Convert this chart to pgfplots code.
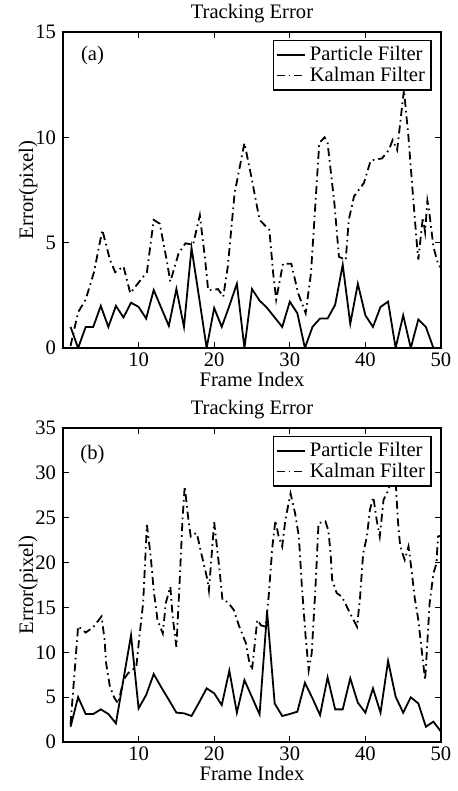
\documentclass[border=0pt]{standalone}
\usepackage{fontspec}
\setmainfont{Liberation Serif}
\usepackage{pgfplots}
\pgfplotsset{compat=1.18}

\newcommand{\fs}{\fontsize{10.3}{12}\selectfont}
\pgfplotsset{
  trk/.style={scale only axis, width=189pt, xmin=0, xmax=50,
    xtick={10,20,30,40,50}, tick align=inside, major tick length=3pt,
    axis line style={line width=0.75pt}, every tick/.style={line width=0.6pt},
    /pgf/number format/assume math mode=true,
    tick label style={font=\fs},
    xticklabel style={yshift=1pt},
    title={Tracking Error}, title style={font=\fs, yshift=-5pt},
    xlabel={Frame Index}, ylabel={Error(pixel)},
    label style={font=\fs},
    xlabel style={yshift=4pt}, ylabel style={yshift=-8pt},
    legend style={at={(0.975,0.975)}, anchor=north east, draw=black,
      line width=0.7pt, fill=white, font=\fs, inner sep=1pt,
      row sep=-2.5pt, cells={anchor=west}},
    legend image code/.code={\draw[#1] (0cm,0cm) -- (0.5cm,0cm);}},
  pf/.style={black, line width=0.9pt},
  kf/.style={black, line width=0.9pt, dash pattern=on 4pt off 2pt on 0.8pt off 2pt}
}

\begin{document}
\begin{tikzpicture}
% (a) small tracking error
\begin{axis}[trk, height=158pt, ymin=0, ymax=15, ytick={0,5,10,15}]
\addplot[pf] coordinates {(1,1.0)(2,0)(3,1.0)(4,1.0)(5,2.0)(6,1.0)(7,2.0)(8,1.45)(9,2.15)(10,1.95)
 (11,1.4)(12,2.75)(13,1.9)(14,1.05)(15,2.8)(16,1.0)(17,4.75)(18,2.4)(19,0)(20,1.9)
 (21,1.0)(22,2.0)(23,3.05)(24,0)(25,2.8)(26,2.25)(27,1.9)(28,1.45)(29,1.0)(30,2.2)
 (31,1.65)(32,0)(33,1.0)(34,1.4)(35,1.4)(36,2.05)(37,3.95)(38,1.15)(39,3.05)(40,1.55)
 (41,1.0)(42,1.95)(43,2.2)(44,0)(45,1.55)(46,0)(47,1.35)(48,1.0)(49,0)};
\addlegendentry{Particle Filter}
\addplot[kf] coordinates {(1,0.1)(2,1.7)(3,2.3)(4.1,3.6)(5.2,5.6)(6.2,4.2)(6.9,3.6)(8.0,3.87)(8.9,2.6)
 (10.2,3.2)(11.1,3.6)(12.0,6.08)(12.8,5.9)(13.7,4.2)(14.2,3.15)(15.3,4.5)(16.2,4.97)(17.2,4.9)
 (18.1,6.3)(18.8,4.2)(19.2,2.75)(19.9,2.75)(20.5,2.8)(21.2,2.44)(21.8,3.87)(22.7,7.35)(24.0,9.73)
 (24.9,8.15)(26.0,6.08)(27.3,5.6)(27.8,3.55)(28.2,2.3)(29.1,4.0)(30.2,4.0)(31.1,2.6)(32.1,1.65)
 (32.8,3.55)(33.9,9.73)(34.6,10.0)(35.0,9.73)(35.9,6.87)(36.5,4.33)(37.4,4.18)(37.8,6.08)(38.5,7.2)
 (39.8,7.83)(40.7,8.9)(42.2,9.0)(43.1,9.4)(43.6,9.87)(44.2,9.4)(45.1,12.25)(45.7,10.0)(46.2,7.66)
 (46.8,4.97)(47.0,4.2)(47.6,6.2)(47.9,5.5)(48.2,7.0)(48.4,6.6)(49.0,4.8)(49.6,4.0)(50,3.8)};
\addlegendentry{Kalman Filter}
\node[font=\fs] at (axis cs:3.9,13.9) {(a)};
\end{axis}

% (b) large tracking error
\begin{axis}[trk, at={(0,-197pt)}, height=157pt, ymin=0, ymax=35, ytick={0,5,...,35}]
\addplot[pf] coordinates {(1,1.7)(2,5.0)(3,3.12)(4,3.12)(5,3.64)(6,3.12)(7,2.08)(8,7.0)(9,11.9)(10,3.75)
 (11,5.24)(12,7.58)(13,6.1)(14,4.7)(15,3.27)(16,3.2)(17,2.9)(18,4.4)(19,5.98)(20,5.43)
 (21,4.12)(22,7.95)(23,3.27)(24,6.9)(25,5.0)(26,3.08)(27,14.5)(28,4.3)(29,2.9)(30,3.12)
 (31,3.38)(32,6.6)(33,4.87)(34,3.0)(35,7.2)(36,3.64)(37,3.64)(38,7.1)(39,4.38)(40,3.27)
 (41,5.98)(42,3.27)(43,9.03)(44,5.05)(45,3.27)(46,4.98)(47,4.3)(48,1.7)(49,2.27)(50,1.15)};
\addlegendentry{Particle Filter}
\addplot[kf] coordinates {(1,2.0)(2,12.9)(3,12.2)(4,12.8)(5.1,14.0)(5.5,11.4)(5.7,8.8)(6.2,6.2)(6.8,4.9)
 (7.3,4.3)(8.0,6.9)(8.6,7.66)(9.7,8.4)(10.1,11.7)(10.6,15.5)(11.1,24.2)(11.6,20.7)(12.0,16.9)
 (12.5,13.6)(13.2,12.1)(13.6,15.5)(14.2,17.3)(14.5,14.0)(15.0,10.6)(15.4,17.3)(15.8,24.7)(16.1,28.5)
 (16.6,24.7)(16.9,22.9)(17.6,23.3)(17.8,22.9)(18.3,21.0)(19.1,18.1)(19.3,16.9)(20.0,24.5)(20.7,19.2)
 (21.1,15.8)(21.8,15.6)(22.6,14.7)(23.3,12.9)(24.2,11.0)(24.6,9.1)(25.0,8.0)(25.7,13.6)(26.2,13.0)
 (26.8,12.85)(27.2,16.2)(27.7,21.8)(28.1,24.7)(28.5,23.0)(29.0,21.8)(29.4,24.7)(30.1,27.7)(30.7,25.5)
 (31.2,22.9)(31.6,17.3)(32.1,11.7)(32.5,8.0)(32.9,9.9)(33.4,17.3)(33.8,24.4)(34.7,24.6)(35.1,23.6)
 (35.4,21.0)(35.6,18.1)(36.2,16.6)(36.9,16.2)(38.0,14.3)(38.9,12.85)(39.3,16.2)(39.7,21.0)(40.2,22.9)
 (40.6,25.9)(41.05,27.3)(41.5,24.7)(41.9,22.9)(42.4,27.0)(43.0,28.0)(43.9,30.5)(44.3,24.7)(44.6,21.8)
 (45.2,20.3)(45.7,21.8)(46.1,19.2)(46.5,16.2)(47.0,13.6)(47.4,10.6)(47.9,6.9)(48.5,15.5)(49.0,18.8)
 (49.4,19.9)(49.6,22.9)(50,23.0)};
\addlegendentry{Kalman Filter}
\node[font=\fs] at (axis cs:3.9,32) {(b)};
\end{axis}
\pgfresetboundingbox
\path (-31.5pt,174pt) rectangle (197pt,-221.5pt);
\end{tikzpicture}
\end{document}
